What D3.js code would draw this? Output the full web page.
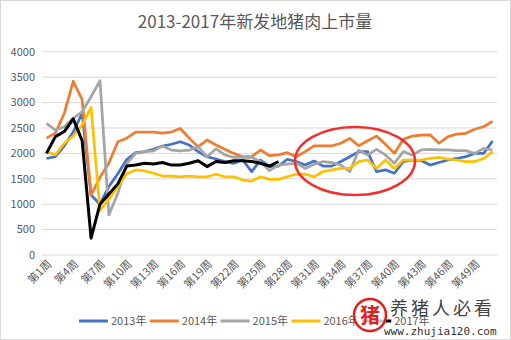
<!DOCTYPE html>
<html><head><meta charset="utf-8">
<script src="https://cdn.jsdelivr.net/npm/d3@7/dist/d3.min.js"></script>
<style>body{margin:0;background:#fff}svg{display:block}</style>
</head><body>
<svg id="c" width="511" height="340"></svg>
<script>
const title = "2013-2017年新发地猪肉上市量";
const weeks = d3.range(1, 52).map(w => "第" + w + "周");
const tickLabels = d3.range(1, 52, 3).map(w => "第" + w + "周");
const yTicks = [0, 500, 1000, 1500, 2000, 2500, 3000, 3500, 4000];
const seriesNames = ["2013年", "2014年", "2015年", "2016年", "2017年"];
const colors = ["#4472C4", "#ED7D31", "#A5A5A5", "#FFC000", "#000000"];

const v2013 = [1900,1935,2150,2420,2790,1180,1000,1350,1600,1880,2015,2035,2080,2145,2180,2230,2165,2035,1935,1890,1840,1805,1870,1640,1870,1740,1750,1885,1840,1770,1850,1750,1750,1840,1935,2035,2035,1640,1675,1610,1840,1870,1860,1770,1820,1870,1900,1935,2000,2000,2245];
const v2014 = [2300,2400,2790,3420,3060,1180,1530,1810,2230,2300,2420,2420,2420,2400,2420,2490,2300,2130,2264,2165,2080,2000,1935,1935,2067,1955,1970,2015,1935,2035,2150,2150,2150,2200,2295,2150,2250,2340,2180,2000,2277,2340,2360,2365,2200,2330,2380,2395,2475,2525,2630];
const v2015 = [2590,2460,2525,2690,2820,3115,3430,790,1215,1800,2000,2035,2050,2145,2065,2050,2065,2130,1935,2090,1970,1920,1920,1920,1840,1660,1770,1790,1805,1705,1785,1840,1820,1770,1640,2065,1970,2080,1970,1805,2035,1970,2067,2080,2067,2067,2055,2055,2000,2100,2067];
const v2016 = [2035,1970,2200,2340,2560,2905,880,1100,1350,1600,1675,1655,1610,1555,1555,1540,1555,1540,1540,1590,1540,1540,1475,1455,1540,1490,1490,1540,1590,1590,1540,1640,1675,1705,1705,1840,1870,1705,1870,1705,1870,1870,1870,1900,1920,1885,1870,1840,1840,1900,2035];
const v2017 = [2000,2330,2430,2680,2250,330,1000,1200,1400,1750,1770,1805,1790,1820,1770,1770,1805,1855,1740,1840,1820,1855,1855,1840,1805,1750,1840];
const allSeries = [v2013, v2014, v2015, v2016, v2017];

const svg = d3.select("#c");
const FONT = "'Noto Sans CJK SC','Noto Sans',sans-serif";

svg.append("rect").attr("x",0.5).attr("y",0.5).attr("width",510).attr("height",339)
  .attr("fill","#fff").attr("stroke","#d9d9d9");

const x = d3.scaleBand().domain(weeks).range([42, 497]).padding(0);
const cx = d => x(d) + x.bandwidth() / 2;
const y = d3.scaleLinear().domain([0, 4000]).range([255, 51.8]);

// gridlines
svg.append("g").selectAll("line").data(yTicks).join("line")
  .attr("x1", 42).attr("x2", 497)
  .attr("y1", d => y(d)).attr("y2", d => y(d))
  .attr("stroke", "#d9d9d9").attr("stroke-width", 1);

// y labels
svg.append("g").selectAll("text").data(yTicks).join("text")
  .attr("x", 35).attr("y", d => y(d)).attr("dy", "0.35em")
  .attr("text-anchor", "end").attr("font-family", FONT).attr("font-size", 11)
  .attr("fill", "#595959").text(d => d);

// x labels
svg.append("g").selectAll("text").data(tickLabels).join("text")
  .attr("transform", d => `translate(${cx(d) + 3},${262}) rotate(-45)`)
  .attr("text-anchor", "end").attr("dy", "0.35em")
  .attr("font-family", FONT).attr("font-size", 11)
  .attr("fill", "#595959").text(d => d);

// lines
const line = d3.line().x((d, i) => cx(weeks[i])).y(d => y(d));
allSeries.forEach((s, k) => {
  svg.append("path").datum(s).attr("d", line)
    .attr("fill", "none").attr("stroke", colors[k])
    .attr("stroke-width", k === 4 ? 3 : 2.75).attr("stroke-linejoin", "round");
});

// title
svg.append("text").attr("x", 255).attr("y", 22).attr("dy", "0.35em")
  .attr("text-anchor", "middle").attr("font-family", FONT).attr("font-size", 17)
  .attr("fill", "#595959").text(title);

// legend
const lg = svg.append("g");
seriesNames.forEach((n, k) => {
  const x0 = 79 + k * 70.8;
  lg.append("line").attr("x1", x0).attr("x2", x0 + 29).attr("y1", 321).attr("y2", 321)
    .attr("stroke", colors[k]).attr("stroke-width", 3);
  lg.append("text").attr("x", x0 + 32).attr("y", 321).attr("dy", "0.35em")
    .attr("font-family", FONT).attr("font-size", 11).attr("fill", "#595959").text(n);
});

// red ellipse annotation
svg.append("ellipse").attr("cx", 355).attr("cy", 161).attr("rx", 60).attr("ry", 34)
  .attr("fill", "none").attr("stroke", "#f0302c").attr("stroke-width", 2.5);

// watermark
const wm = svg.append("g");
wm.append("circle").attr("cx", 370).attr("cy", 315).attr("r", 16)
  .attr("fill", "rgba(255,255,255,0.75)").attr("stroke", "#e0201c").attr("stroke-width", 2.5);
wm.append("text").attr("x", 370).attr("y", 316).attr("dy", "0.35em").attr("text-anchor", "middle")
  .attr("font-family", FONT).attr("font-size", 20).attr("font-weight", "bold")
  .attr("fill", "#e0201c").text("猪");
wm.append("text").attr("x", 390).attr("y", 309).attr("dy", "0.35em")
  .attr("font-family", FONT).attr("font-size", 18).attr("fill", "#444").attr("letter-spacing", 3)
  .text("养猪人必看");
wm.append("text").attr("x", 384).attr("y", 331).attr("dy", "0.35em")
  .attr("font-family", "'DejaVu Sans Mono',monospace").attr("font-size", 11).attr("fill", "#333")
  .text("www.zhujia120.com");
</script>
</body></html>
